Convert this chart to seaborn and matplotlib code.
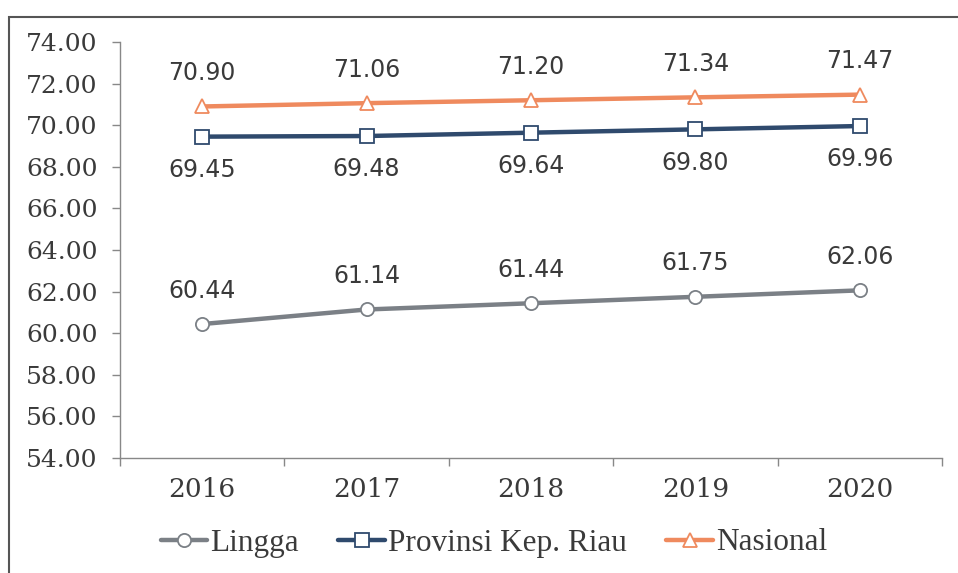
import matplotlib
matplotlib.use("Agg")
import matplotlib.pyplot as plt
import seaborn as sns
import pandas as pd
from matplotlib.patches import Rectangle

years = [2016, 2017, 2018, 2019, 2020]
lingga = [60.44, 61.14, 61.44, 61.75, 62.06]
kepri = [69.45, 69.48, 69.64, 69.80, 69.96]
nasional = [70.90, 71.06, 71.20, 71.34, 71.47]
series_names = ["Lingga", "Provinsi Kep. Riau", "Nasional"]
yticks = [54, 56, 58, 60, 62, 64, 66, 68, 70, 72, 74]

sns.set_theme(style="white")
plt.rcParams['font.family'] = ['DejaVu Serif']

fig = plt.figure(figsize=(9.58, 5.73), dpi=100)
ax = fig.add_axes([120/958, 1-458/573, (942-120)/958, (458-42)/573])

txt_color = "#3a3a3a"
styles = [
    (lingga, "#7b8086", "o", 9.5, "above"),
    (kepri, "#2f4a6d", "s", 9.5, "below"),
    (nasional, "#ef8a5e", "^", 10, "above"),
]
for name, (vals, col, mk, ms, pos) in zip(series_names, styles):
    df = pd.DataFrame({"year": years, "value": vals})
    sns.lineplot(data=df, x="year", y="value", ax=ax, color=col, lw=3.2,
                 marker=mk, markersize=ms, markerfacecolor="white",
                 markeredgecolor=col, markeredgewidth=1.3, label=name)
    for x, v in zip(years, vals):
        off = 24 if pos == "above" else -24
        ax.annotate(f"{v:.2f}", (x, v), xytext=(0, off), textcoords="offset points",
                    ha="center", va="center", fontsize=17, color=txt_color,
                    family="DejaVu Sans")

ax.set_xlim(2015.5, 2020.5)
ax.set_ylim(54, 74)
ax.set_yticks(yticks)
ax.set_yticklabels([f"{t:.2f}" for t in yticks], fontsize=18, color=txt_color)
ax.set_xticks(years)
ax.set_xticklabels([str(y) for y in years], fontsize=19, color=txt_color)
ax.set_xticks([2015.5 + i for i in range(6)], minor=True)
ax.tick_params(axis="x", which="major", length=0, pad=14)
ax.tick_params(axis="x", which="minor", length=6, width=1, color="#888888", direction="out", bottom=True)
ax.tick_params(axis="y", which="major", length=6, width=1, color="#888888", direction="out", left=True, pad=10)
ax.set_xlabel("")
ax.set_ylabel("")
for s in ["top", "right"]:
    ax.spines[s].set_visible(False)
for s in ["left", "bottom"]:
    ax.spines[s].set_color("#888888")
    ax.spines[s].set_linewidth(1.0)
ax.grid(False)

ax.legend(loc="center", bbox_to_anchor=(494/958, 1-543/573), bbox_transform=fig.transFigure,
          ncol=3, frameon=False, handlelength=1.5, handletextpad=0.1, columnspacing=1.25,
          prop={"family": "Liberation Serif", "size": 22.5}, labelcolor=txt_color)

fig.patches.append(Rectangle((9/958, -0.1), 1.2, 1-17/573 + 0.1, transform=fig.transFigure,
                             fill=False, edgecolor="#555555", lw=1.5))

fig.savefig("out.png", dpi=100)
